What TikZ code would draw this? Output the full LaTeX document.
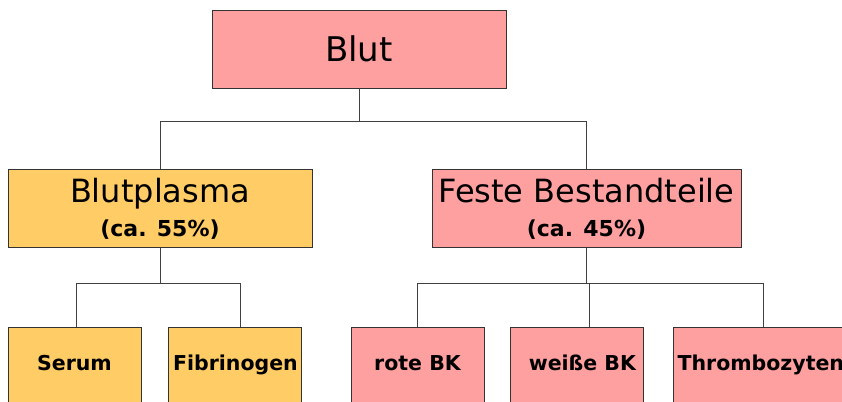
\documentclass[tikz,border=0pt]{standalone}
\usepackage{fontspec}
\setmainfont{DejaVu Sans}
\usetikzlibrary{positioning}
\definecolor{blutrot}{RGB}{255,160,160}
\definecolor{plasmagelb}{RGB}{255,204,102}
\tikzset{
  box/.style={
    rectangle,
    draw=black!80,
    line width=0.9pt,
    align=center,
    inner sep=0pt,
    minimum height=78pt
  },
  group/.style={
    box,
    font=\fontsize{32}{34}\selectfont
  },
  leaf/.style={
    box,
    minimum width=133pt,
    minimum height=80pt,
    text height=16pt,
    text depth=11pt,
    font=\bfseries\fontsize{20.5}{24}\selectfont
  },
  line/.style={draw=black!75, line width=0.8pt}
}
\newcommand{\anteil}[1]{{\bfseries\fontsize{22}{34}\selectfont (ca. #1\%)}}

\begin{document}
\begin{tikzpicture}
  \useasboundingbox (0,0) rectangle (842pt,-401pt);
  \clip (0,0) rectangle (842pt,-401pt);

  \node[box, fill=blutrot, minimum width=294pt,
        font=\fontsize{34}{36}\selectfont] (blut) at (359pt,-49pt) {Blut};

  % zweite Ebene
  \node[group, fill=plasmagelb, minimum width=304pt,
        below=81pt of blut, xshift=-199pt] (plasma)
        {Blutplasma\\\anteil{55}};
  \node[group, fill=blutrot, minimum width=309pt,
        below=81pt of blut, xshift=227.5pt] (feste)
        {Feste Bestandteile\\\anteil{45}};

  % untere Ebene
  \node[leaf, fill=plasmagelb, below=79pt of plasma, xshift=-85.5pt] (serum) {Serum};
  \node[leaf, fill=plasmagelb, right=27pt of serum] (fibrinogen) {Fibrinogen};

  \node[leaf, fill=blutrot, below=79pt of feste, xshift=-169pt] (rote) {rote BK};
  \node[leaf, fill=blutrot, right=26pt of rote] (weisse) {\hspace*{10pt}weiße BK};
  \node[leaf, fill=blutrot, right=29pt of weisse, minimum width=174pt] (thrombo) {Thrombozyten};

  \draw[line] (blut.south) -- ++(0,-33pt) -| (plasma.north);
  \draw[line] (blut.south) -- ++(0,-33pt) -| (feste.north);

  \draw[line] (plasma.south) -- ++(0,-35pt) -| ([xshift=2pt]serum.north);
  \draw[line] (plasma.south) -- ++(0,-35pt) -| ([xshift=5pt]fibrinogen.north);

  \draw[line] (feste.south) -- ++(0,-35pt) -| (rote.north);
  \draw[line] (feste.south) -- ++(0,-35pt) -| ([xshift=12pt]weisse.north);
  \draw[line] (feste.south) -- ++(0,-35pt) -| ([xshift=3pt]thrombo.north);
\end{tikzpicture}
\end{document}
